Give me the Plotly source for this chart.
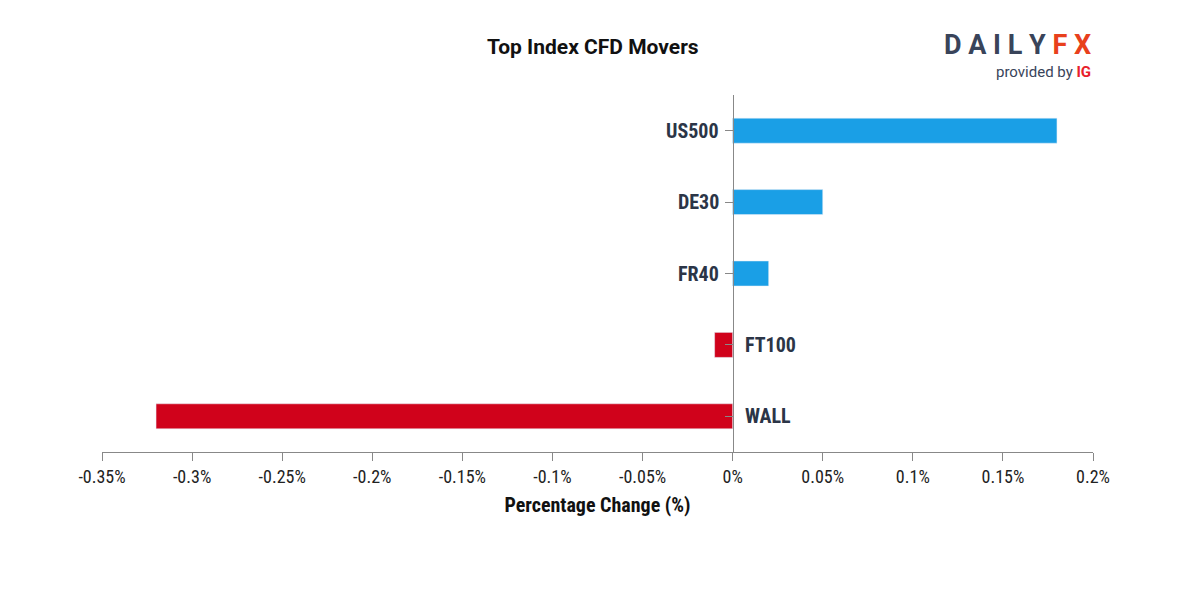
import plotly.graph_objects as go

# Data
markets = ["US500", "DE30", "FR40", "FT100", "WALL"]
changes = [0.18, 0.05, 0.02, -0.01, -0.32]
tick_vals = [-0.35, -0.3, -0.25, -0.2, -0.15, -0.1, -0.05, 0, 0.05, 0.1, 0.15, 0.2]
tick_text = ["-0.35%", "-0.3%", "-0.25%", "-0.2%", "-0.15%", "-0.1%", "-0.05%",
             "0%", "0.05%", "0.1%", "0.15%", "0.2%"]

blue = "#1a9fe6"
red = "#d0021b"
ink = "#2b3547"
colors = [blue if v >= 0 else red for v in changes]

fig = go.Figure(go.Bar(
    x=changes, y=markets, orientation="h",
    marker_color=colors, width=0.35, hoverinfo="x+y",
))

# category labels next to the zero line, on the side opposite the bar
for name, v in zip(markets, changes):
    fig.add_annotation(
        x=0, y=name, text="<b>" + name + "</b>", showarrow=False,
        xanchor="right" if v >= 0 else "left",
        xshift=-12 if v >= 0 else 10,
        font=dict(family="Roboto Condensed, Roboto", size=20, color=ink),
    )

fig.add_annotation(
    xref="paper", yref="paper", x=0.495, y=1.134, yanchor="middle", showarrow=False,
    text="<b>Top Index CFD Movers</b>",
    font=dict(family="Roboto", size=21, color="#111"),
)
fig.add_annotation(
    xref="paper", yref="paper", x=1.0, y=1.14, xanchor="right", yanchor="middle",
    showarrow=False,
    text="<b><span style='color:#39445a'>D A I L Y </span><span style='color:#e8401c'>F X</span></b>",
    font=dict(family="Roboto", size=27),
)
fig.add_annotation(
    xref="paper", yref="paper", x=1.0, y=1.064, xanchor="right", yanchor="middle",
    showarrow=False,
    text="<span style='color:#39445a'>provided by </span><b><span style='color:#e8202a'>IG</span></b>",
    font=dict(family="Roboto", size=15),
)

fig.update_layout(
    width=1200, height=600,
    margin=dict(l=94, r=115, t=87, b=156),
    plot_bgcolor="white", paper_bgcolor="white",
    showlegend=False,
    xaxis=dict(
        range=[-0.35, 0.2], tickvals=tick_vals, ticktext=tick_text,
        showgrid=False, zeroline=False, showline=True, linecolor="#888",
        ticks="outside", ticklen=8, tickcolor="#888", automargin=False,
        tickfont=dict(family="Roboto Condensed, Roboto", size=18, color="#222"),
        title=dict(text="<b>Percentage Change (%)</b>", standoff=12,
                   font=dict(family="Roboto Condensed, Roboto", size=20, color="#111")),
    ),
    yaxis=dict(
        categoryorder="array", categoryarray=markets[::-1],
        anchor="free", position=0.35 / 0.55, automargin=False,
        showgrid=False, zeroline=False, showline=True, linecolor="#888",
        ticks="outside", ticklen=8, tickcolor="#888", showticklabels=False,
    ),
)

fig.write_html("out.html")
